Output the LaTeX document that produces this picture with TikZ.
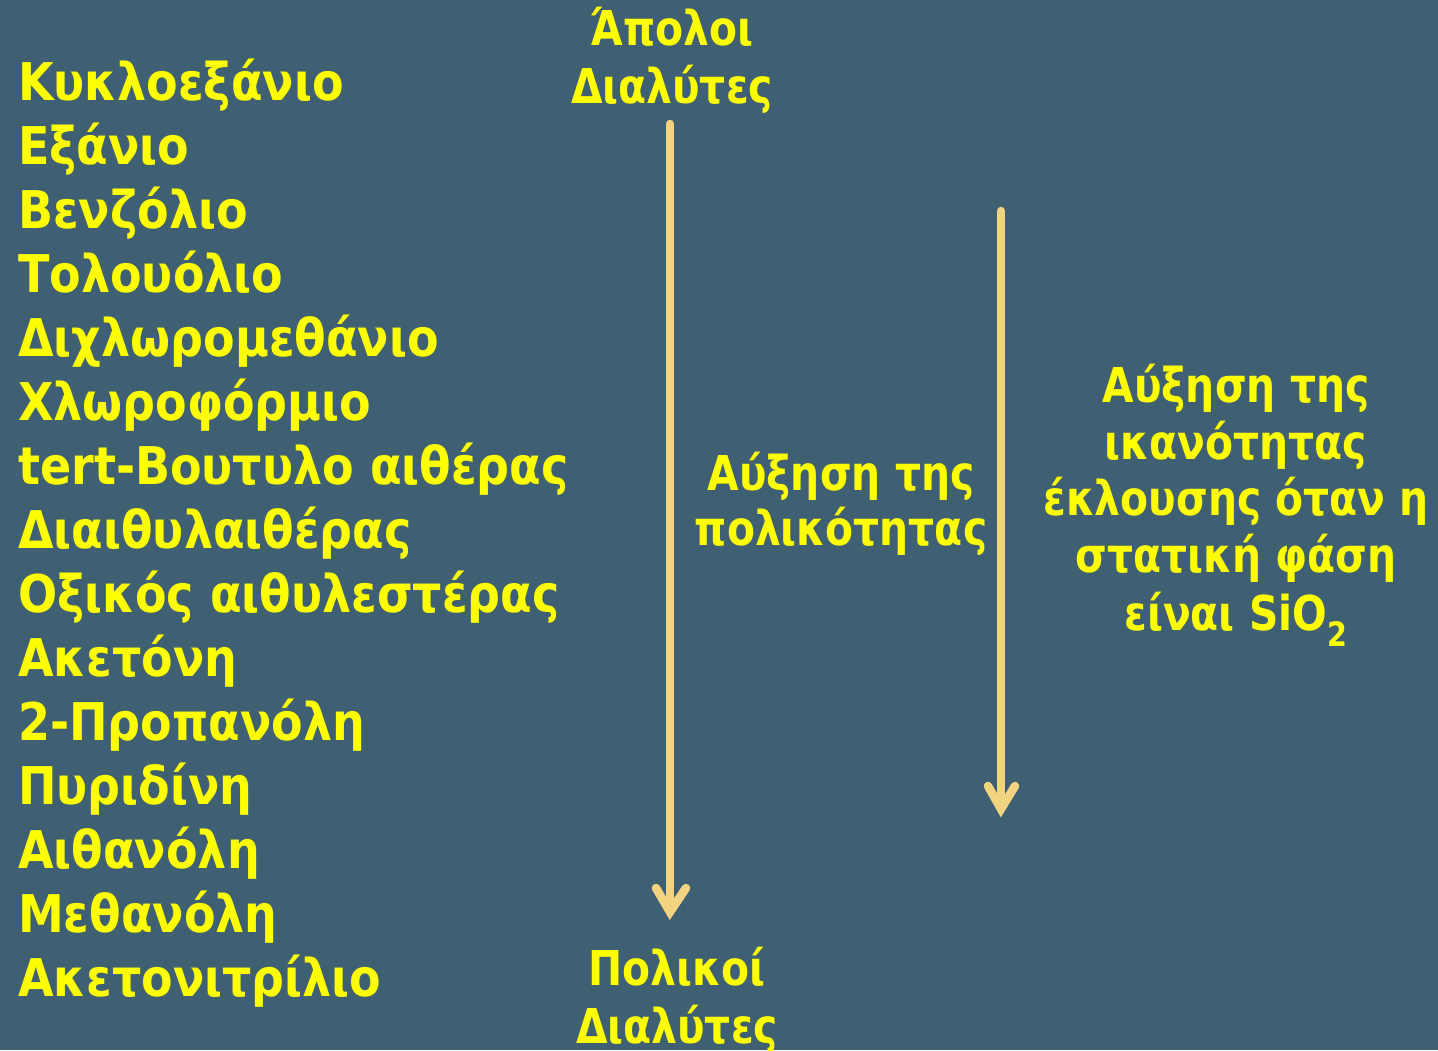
\documentclass[tikz,border=0pt]{standalone}
\usepackage{fontspec}
\setmainfont{DejaVu Sans}[FakeStretch=0.885]
\newfontfamily\labfont{DejaVu Sans}[FakeStretch=0.85]
\definecolor{bgcol}{RGB}{63,96,115}
\definecolor{txtcol}{RGB}{255,255,0}
\definecolor{arrcol}{RGB}{242,211,128}
\begin{document}
\begin{tikzpicture}[x=1pt,y=-1pt,
  txt/.style={text=txtcol, inner sep=0pt},
  item/.style={txt, anchor=base west, font=\bfseries\fontsize{52}{60}\selectfont},
  ctr/.style={txt, anchor=base, font=\labfont\bfseries\fontsize{48}{56}\selectfont},
  shaft/.style={draw=arrcol, line width=8.5pt, line cap=round},
  barb/.style={draw=arrcol, line width=8.5pt, line cap=round, line join=miter}]
\fill[bgcol] (0,0) rectangle (1438,1050);
\useasboundingbox (0,0) rectangle (1438,1050);
% left list
\foreach \t [count=\i] in {Κυκλοεξάνιο,Εξάνιο,Βενζόλιο,Τολουόλιο,Διχλωρομεθάνιο,Χλωροφόρμιο,tert-Βουτυλο αιθέρας,Διαιθυλαιθέρας,Οξικός αιθυλεστέρας,Ακετόνη,2-Προπανόλη,Πυριδίνη,Αιθανόλη,Μεθανόλη,Ακετονιτρίλιο}
  \node[item] (l\i) at (18,{100+64.07*(\i-1)}) {\t};
% top label
\node[ctr] (ap1) at (672,45) {Άπολοι};
\node[ctr] (ap2) at (672,103) {Διαλύτες};
% bottom label
\node[ctr] (po1) at (677,985) {Πολικοί};
\node[ctr] (po2) at (677,1043) {Διαλύτες};
% middle label
\node[ctr] (m1) at (841,490) {Αύξηση της};
\node[ctr] (m2) at (841,545) {πολικότητας};
% right label
\node[ctr] (r1) at (1236,402) {Αύξηση της};
\node[ctr] (r2) at (1236,459) {ικανότητας};
\node[ctr] (r3) at (1236,515) {έκλουσης όταν η};
\node[ctr] (r4) at (1236,572) {στατική φάση};
\node[ctr] (r5) at (1236,630) {είναι SiO\textsubscript{2}};
% arrow 1
\coordinate (a1s) at (670,124);
\coordinate (a1e) at (670,912);
\coordinate (a1l) at (656,888);
\coordinate (a1r) at (686,888);
\draw[shaft] (a1s) -- (a1e);
\draw[barb] (a1l) -- (a1e) -- (a1r);
% arrow 2
\coordinate (a2s) at (1001,211);
\coordinate (a2e) at (1001,809);
\coordinate (a2l) at (988,786);
\coordinate (a2r) at (1015,786);
\draw[shaft] (a2s) -- (a2e);
\draw[barb] (a2l) -- (a2e) -- (a2r);
\end{tikzpicture}
\end{document}
